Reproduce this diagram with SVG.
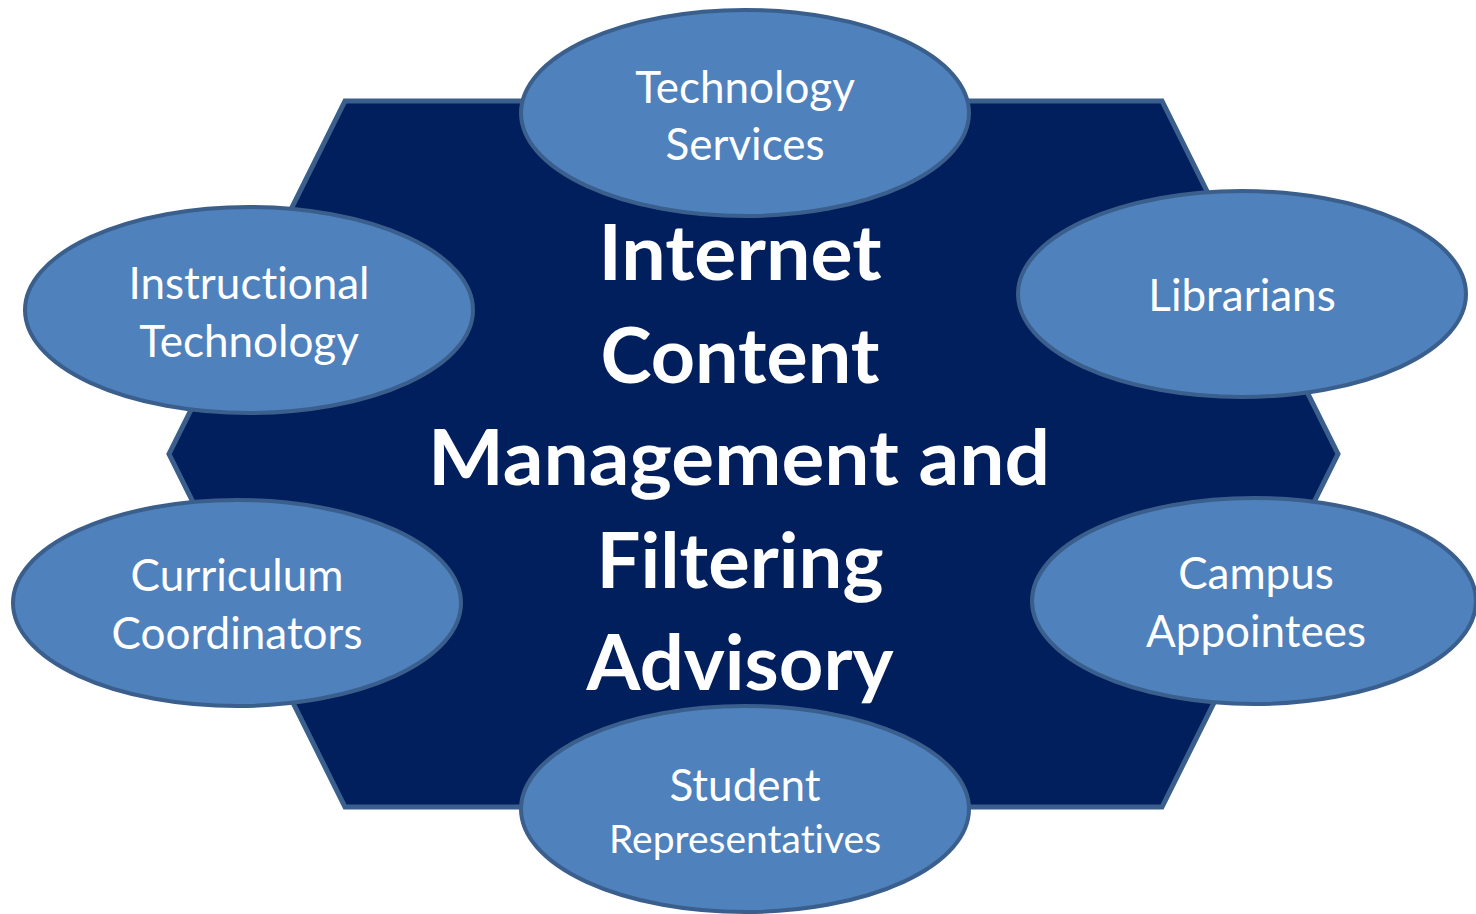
<svg xmlns="http://www.w3.org/2000/svg" width="1476" height="914" viewBox="0 0 1476 914">
<style>
.ell{fill:#4F81BD;stroke:#3A5F8C;stroke-width:4}
.lbl{font-family:Lato,"Noto Sans",sans-serif;font-size:44px;fill:#FFFFFF;text-anchor:middle;font-variant-ligatures:none;font-feature-settings:"liga" 0,"dlig" 0}
.ctr{font-family:Lato,"Noto Sans",sans-serif;font-size:76px;font-weight:bold;fill:#FFFFFF;text-anchor:middle;font-variant-ligatures:none}
</style>
<rect width="1476" height="914" fill="#FFFFFF"/>
<g id="hub">
<polygon points="345,101 1162,101 1338,454 1162,807 345,807 169,454" fill="#001F5C" stroke="#3A5F8C" stroke-width="5"/>
</g>
<g id="connectors"></g>
<g id="center-label">
<text class="ctr" x="740" y="280" textLength="283" lengthAdjust="spacingAndGlyphs">Internet</text>
<text class="ctr" x="740" y="383" textLength="279" lengthAdjust="spacingAndGlyphs">Content</text>
<text class="ctr" x="739" y="485" textLength="622" lengthAdjust="spacingAndGlyphs">Management and</text>
<text class="ctr" x="740" y="588" textLength="287" lengthAdjust="spacingAndGlyphs">Filtering</text>
<text class="ctr" x="740" y="690" textLength="307" lengthAdjust="spacingAndGlyphs">Advisory</text>
</g>
<g id="technology-services">
<ellipse class="ell" cx="745" cy="113" rx="224" ry="103"/>
<text class="lbl" x="745" y="103">Technology</text>
<text class="lbl" x="745" y="160">Services</text>
</g>
<g id="librarians">
<ellipse class="ell" cx="1242" cy="294" rx="224" ry="103"/>
<text class="lbl" x="1242" y="311">Librarians</text>
</g>
<g id="instructional-technology">
<ellipse class="ell" cx="249" cy="310" rx="224" ry="103"/>
<text class="lbl" x="249" y="299">Instructional</text>
<text class="lbl" x="249" y="357">Technology</text>
</g>
<g id="curriculum-coordinators">
<ellipse class="ell" cx="237" cy="603" rx="224" ry="103"/>
<text class="lbl" x="237" y="591">Curriculum</text>
<text class="lbl" x="237" y="649">Coordinators</text>
</g>
<g id="campus-appointees">
<ellipse class="ell" cx="1254" cy="601" rx="222" ry="103"/>
<text class="lbl" x="1256" y="589">Campus</text>
<text class="lbl" x="1256" y="647">Appointees</text>
</g>
<g id="student-representatives">
<ellipse class="ell" cx="745" cy="809" rx="224" ry="103"/>
<text class="lbl" x="745" y="801">Student</text>
<text class="lbl" x="745" y="853" style="font-size:39px">Representatives</text>
</g>
</svg>
